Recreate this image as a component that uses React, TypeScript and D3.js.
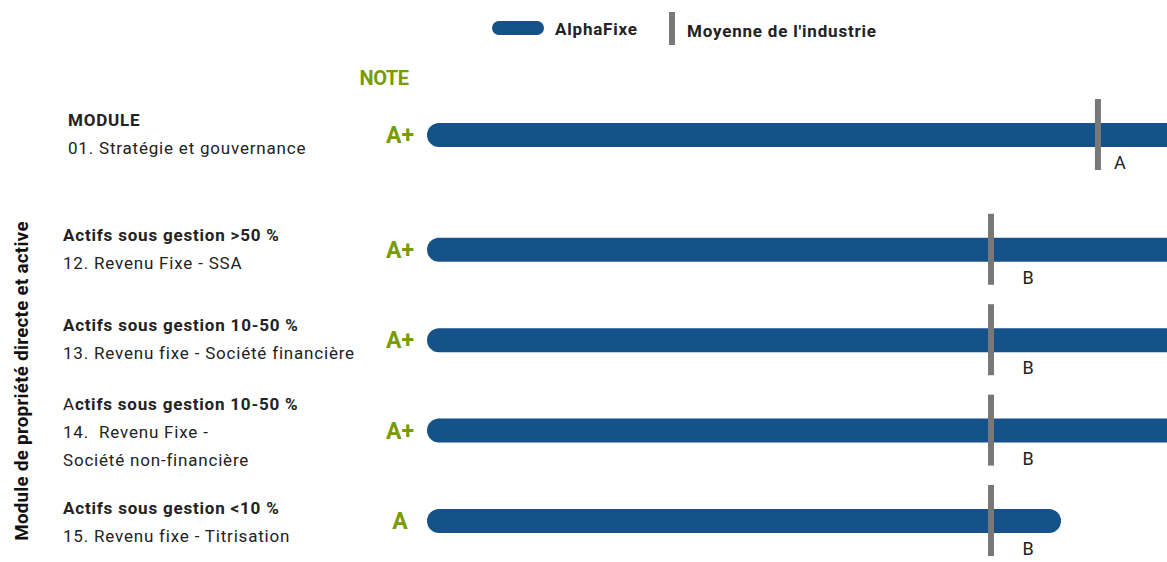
import React from "react";
import * as d3 from "d3";

// rows of the chart
const groups = ["MODULE", "Actifs sous gestion >50 %", "Actifs sous gestion 10-50 %", "Actifs sous gestion 10-50 %", "Actifs sous gestion <10 %"];
const modules = [
  ["01. Stratégie et gouvernance"],
  ["12. Revenu Fixe - SSA"],
  ["13. Revenu fixe - Société financière"],
  ["14.  Revenu Fixe -", "Société non-financière"],
  ["15. Revenu fixe - Titrisation"],
];
const grades = ["A+", "A+", "A+", "A+", "A"];
const alphaScores = [100, 100, 100, 100, 84.2];
const industryScores = [89.1, 74.9, 74.9, 74.9, 74.9];
const industryGrades = ["A", "B", "B", "B", "B"];

const W = 1167;
const H = 562;
const BLUE = "#15528a";
const GRAY = "#787878";
const GREEN = "#7a9a01";
const TEXT = "#222";
const FONT = "Roboto, 'Noto Sans', sans-serif";

export default function App() {
  const x = d3.scaleLinear().domain([0, 100]).range([427, 1180]);
  // first row is the overall module, a gap separates it from the others
  const slot = (i: number) => i + (i > 0 ? 0.27 : 0);
  const y = d3.scaleLinear().domain([0, 4.27]).range([135, 521]);
  const barH = 24;

  return (
    <svg width={W} height={H} style={{ position: "absolute", left: 0, top: 0, fontFamily: FONT }}>
      {/* legend */}
      <rect x={492} y={21} width={52} height={14} rx={7} fill={BLUE} />
      <text x={555} y={35} fontSize={17} fontWeight={700} fill={TEXT} letterSpacing={0.8}>AlphaFixe</text>
      <rect x={669} y={12} width={6} height={33} fill={GRAY} />
      <text x={687} y={37} fontSize={17} fontWeight={700} fill={TEXT} letterSpacing={0.8}>Moyenne de l'industrie</text>

      <text x={384} y={85} textAnchor="middle" fontSize={20} fontWeight={700} fill={GREEN} letterSpacing={-0.5}>NOTE</text>

      {/* vertical group title */}
      <text
        transform={`translate(28,381) rotate(-90)`}
        textAnchor="middle"
        fontSize={18.7}
        fontWeight={700}
        fill="#111"
        letterSpacing={0.3}
      >
        Module de propriété directe et active
      </text>

      {groups.map((g, i) => {
        const cy = y(slot(i));
        const lines = modules[i];
        const top = cy - (lines.length === 2 ? 21 : i === 4 ? 7 : 9);
        const lx = i === 0 ? 68 : 63;
        const xe = x(alphaScores[i]);
        const xm = x(industryScores[i]);
        return (
          <g key={i}>
            <text x={lx} y={top} fontSize={17} fontWeight={700} fill={TEXT} letterSpacing={0.8}>
              {i === 3 ? (
                <>
                  <tspan fontWeight={400}>A</tspan>
                  {g.slice(1)}
                </>
              ) : (
                g
              )}
            </text>
            {lines.map((l, k) => (
              <text
                key={k}
                x={lx}
                y={top + 28 + k * 28}
                fontSize={17}
                fill={TEXT}
                letterSpacing={0.8}
                style={{ whiteSpace: "pre" }}
              >
                {l}
              </text>
            ))}
            <text x={400} y={cy + 8} textAnchor="middle" fontSize={23} fontWeight={700} fill={GREEN}>
              {grades[i]}
            </text>
            <rect x={x(0)} y={cy - barH / 2} width={xe - x(0)} height={barH} rx={barH / 2} fill={BLUE} />
            <rect x={xm - 3} y={cy - 36} width={6} height={71} fill={GRAY} />
            <text x={xm + (i === 0 ? 22 : 37)} y={cy + 34} textAnchor="middle" fontSize={18} fill={TEXT}>
              {industryGrades[i]}
            </text>
          </g>
        );
      })}
    </svg>
  );
}
